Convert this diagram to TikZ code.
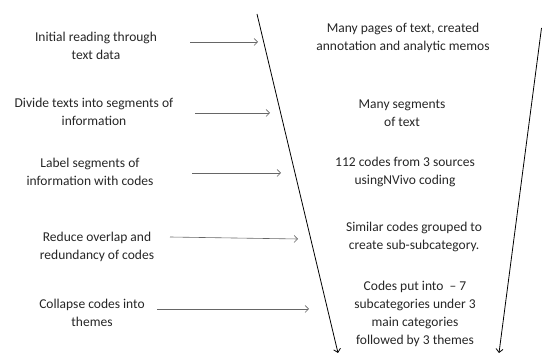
\documentclass[tikz,border=0pt]{standalone}
\usepackage{fontspec}
\setmainfont{Carlito}
\usetikzlibrary{positioning,arrows.meta}

\begin{document}
\begin{tikzpicture}[x=1pt,y=-1pt,->,>={Straight Barb[length=3.5pt,width=7pt]}]
    \tikzstyle{step text}=[align=center,inner sep=0pt,text=black!85,font=\fontsize{13.5}{18}\selectfont]
    \tikzstyle{result text}=[step text]
    \tikzstyle{step arrow}=[draw=black!60,semithick]
    \tikzstyle{funnel}=[draw=black,thick]

    \useasboundingbox (0,0) rectangle (542,355);

    % Draw the steps on the left
    \foreach \name / \x / \y / \txt in {
        1/96/46/{Initial reading through\\text data},
        2/94/112/{Divide texts into segments of\\information},
        3/90/172/{Label segments of\\information with codes},
        4/97/247/{Reduce overlap and\\redundancy of codes},
        5/92/313/{Collapse codes into\\themes}}
        \node[step text] (S-\name) at (\x,\y) {\txt};

    % Draw the results inside the funnel
    \foreach \name / \x / \y / \txt in {
        1/403/38/{Many pages of text, created\\annotation and analytic memos},
        2/402/113/{Many segments\\of text},
        3/405/172/{112 codes from 3 sources\\usingNVivo coding},
        4/414/237/{Similar codes grouped to\\create sub-subcategory.},
        5/415/314/{Codes put into \ – 7\\subcategories under 3\\main categories\\followed by 3 themes}}
        \node[result text] (R-\name) at (\x,\y) {\txt};

    % Ends of the arrows from the steps
    \foreach \name / \xa / \xb / \ya / \yb in {
        1/190/258/42/42, 2/195/270/113/113, 3/192/281/173/173,
        4/170/298/237/239, 5/157/309/309/309} {
        \coordinate (A-\name) at (\xa,\ya);
        \coordinate (B-\name) at (\xb,\yb);
    }

    % Connect every step with the funnel
    \foreach \name in {1,...,5}
        \draw[step arrow] (A-\name) -- (B-\name);

    % Draw the funnel
    \coordinate (FL-top) at (257,14);
    \coordinate (FL-bot) at (338,353);
    \coordinate (FR-top) at (541.5,28);
    \coordinate (FR-bot) at (499,353);
    \draw[funnel] (FL-top) -- (FL-bot);
    \draw[funnel] (FR-top) -- (FR-bot);
\end{tikzpicture}
\end{document}
